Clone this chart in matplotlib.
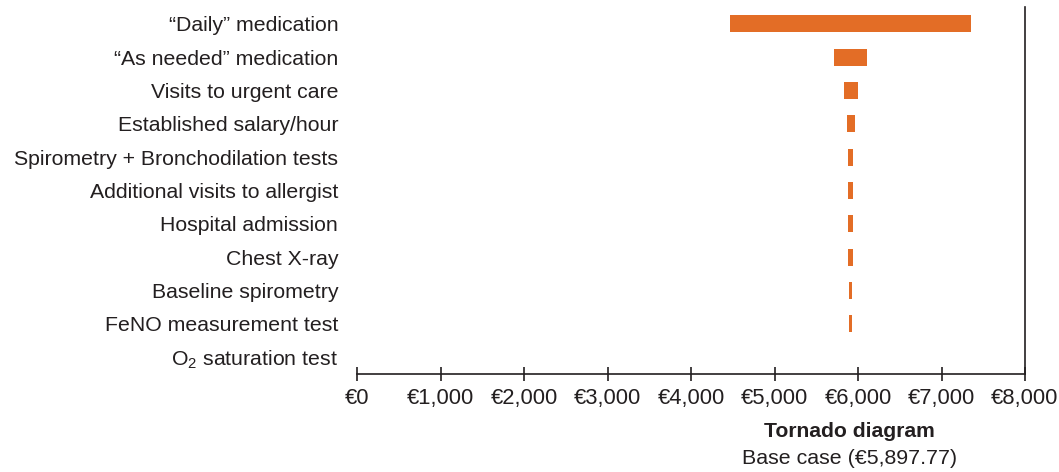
import matplotlib
matplotlib.use("Agg")
import matplotlib.pyplot as plt
from matplotlib.ticker import FuncFormatter

plt.rcParams['font.family'] = ['Liberation Sans', 'DejaVu Sans']
plt.rcParams['mathtext.fontset'] = 'custom'
plt.rcParams['mathtext.rm'] = 'Liberation Sans'
plt.rcParams['mathtext.it'] = 'Liberation Sans'
plt.rcParams['mathtext.default'] = 'regular'

categories = ['\u201cDaily\u201d medication', '\u201cAs needed\u201d medication',
              'Visits to urgent care', 'Established salary/hour',
              'Spirometry + Bronchodilation tests', 'Additional visits to allergist',
              'Hospital admission', 'Chest X-ray', 'Baseline spirometry',
              'FeNO measurement test', 'O$_2$ saturation test']
low_values = [4467, 5713, 5832, 5868, 5880, 5880, 5880, 5880, 5890, 5890, 5897.77]
high_values = [7353, 6108, 6000, 5964, 5940, 5940, 5940, 5940, 5928, 5928, 5897.77]
base_case = 5897.77
xticks = [0, 1000, 2000, 3000, 4000, 5000, 6000, 7000, 8000]

text_color = '#231f20'
bar_color = '#e36d26'

fig = plt.figure(figsize=(10.59, 4.72), dpi=100)
ax = fig.add_axes([357/1059, 1 - 374/472, (1025-357)/1059, (374-7)/472])

ypos = list(range(len(categories)))
widths = [h - l for l, h in zip(low_values, high_values)]
ax.barh(ypos, widths, left=low_values, height=0.51, color=bar_color, linewidth=0)

ax.set_ylim(len(categories) - 0.5, -0.5)
ax.set_xlim(0, 8000)
ax.set_yticks(ypos)
ax.set_yticklabels(categories, fontsize=15.3, color=text_color)
ax.tick_params(axis='y', length=0, pad=13.5)
ax.set_xticks(xticks)
ax.xaxis.set_major_formatter(FuncFormatter(lambda v, p: '\u20ac{:,.0f}'.format(v)))
ax.tick_params(axis='x', direction='inout', length=10, width=1.2, color=text_color,
               labelsize=15.8, labelcolor=text_color, pad=5)

for s in ['left', 'top']:
    ax.spines[s].set_visible(False)
ax.spines['bottom'].set_color(text_color)
ax.spines['bottom'].set_linewidth(1.2)
ax.spines['right'].set_color(text_color)
ax.spines['right'].set_linewidth(1.2)

ax.text(base_case, 1 - (432 - 7) / (374 - 7), 'Tornado diagram', transform=ax.get_xaxis_transform(),
        ha='center', va='center', fontsize=15.2, fontweight='bold', color=text_color)
ax.text(base_case, 1 - (458 - 7) / (374 - 7), 'Base case (\u20ac{:,.2f})'.format(base_case),
        transform=ax.get_xaxis_transform(), ha='center', va='center', fontsize=15.4, color=text_color)

fig.savefig('out.png', dpi=100)
